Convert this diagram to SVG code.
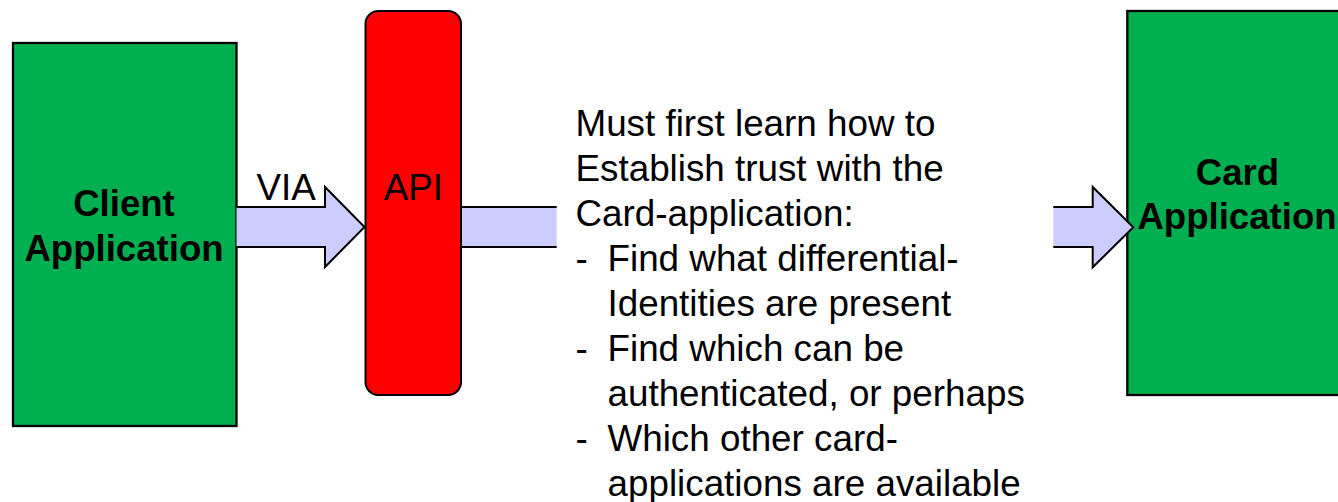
<svg xmlns="http://www.w3.org/2000/svg" width="1338" height="502" viewBox="0 0 1338 502">
  <style>
    .app { fill: #00B050; stroke: #000; stroke-width: 2.3; }
    .api { fill: #FF0000; stroke: #000; stroke-width: 2; }
    .arrow-fill { fill: #CCCCFF; stroke: none; }
    .arrow-edge { fill: none; stroke: #000; stroke-width: 2; stroke-linejoin: miter; }
    .bold { font-family: "Liberation Sans", Arial, sans-serif; font-weight: bold; font-size: 36.6px; fill: #000; text-anchor: middle; }
    .plain { font-family: "Liberation Sans", Arial, sans-serif; font-size: 36.8px; fill: #000; }
  </style>
  <rect width="1338" height="502" fill="#fff"/>

  <!-- Client application box -->
  <g id="client-application">
    <rect class="app" x="13" y="43" width="223.5" height="383"/>
    <text class="bold" x="124" y="215.5">Client</text>
    <text class="bold" x="124" y="260.5">Application</text>
  </g>

  <!-- Card application box (runs off the right edge) -->
  <g id="card-application">
    <rect class="app" x="1127.3" y="11" width="226" height="384"/>
    <text class="bold" x="1237.5" y="185">Card</text>
    <text class="bold" x="1237" y="228.5">Application</text>
  </g>

  <!-- Connectors: block arrows -->
  <g id="connectors">
    <!-- client -> API -->
    <polygon class="arrow-fill" points="236.5,207 325,207 325,187 364.5,227 325,267 325,247 236.5,247"/>
    <polyline class="arrow-edge" points="236.5,207 325,207 325,187 364.5,227 325,267 325,247 236.5,247"/>
    <text class="plain" x="256.5" y="200" font-size="36">VIA</text>

    <!-- API -> text (open-ended shaft) -->
    <rect class="arrow-fill" x="461" y="207" width="95.7" height="40"/>
    <line class="arrow-edge" x1="461" y1="207" x2="556.7" y2="207"/>
    <line class="arrow-edge" x1="461" y1="247" x2="556.7" y2="247"/>

    <!-- text -> card application -->
    <polygon class="arrow-fill" points="1053.3,207 1092.7,207 1092.7,187 1133.3,227.3 1092.7,267.3 1092.7,247 1053.3,247"/>
    <polyline class="arrow-edge" points="1053.3,207 1092.7,207 1092.7,187 1133.3,227.3 1092.7,267.3 1092.7,247 1053.3,247"/>
  </g>

  <!-- API bar -->
  <g id="api">
    <rect class="api" x="365.5" y="11" width="95.5" height="384" rx="13" ry="13"/>
    <text class="plain" x="413.3" y="200" font-size="36" text-anchor="middle">API</text>
  </g>

  <!-- Explanatory note -->
  <g id="note">
    <text class="plain" x="575.5" y="136">Must first learn how to</text>
    <text class="plain" x="575.5" y="181">Establish trust with the</text>
    <text class="plain" x="575.5" y="226">Card-application:</text>
    <text class="plain" x="575.5" y="271">-</text>
    <text class="plain" x="607.5" y="271">Find what differential-</text>
    <text class="plain" x="607.5" y="316">Identities are present</text>
    <text class="plain" x="575.5" y="361">-</text>
    <text class="plain" x="607.5" y="361">Find which can be</text>
    <text class="plain" x="607.5" y="406">authenticated, or perhaps</text>
    <text class="plain" x="575.5" y="451">-</text>
    <text class="plain" x="607.5" y="451">Which other card-</text>
    <text class="plain" x="607.5" y="496">applications are available</text>
  </g>
</svg>
